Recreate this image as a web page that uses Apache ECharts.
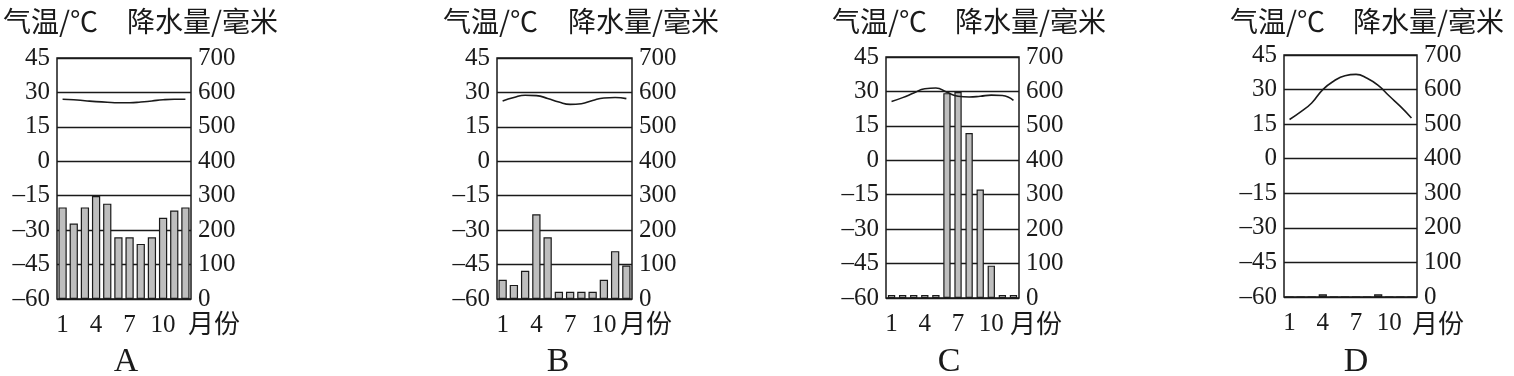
<!DOCTYPE html>
<html>
<head>
<meta charset="utf-8">
<script src="https://cdn.jsdelivr.net/npm/echarts@6/dist/echarts.min.js"></script>
<style>
html,body{margin:0;padding:0;background:#fff;}
#chart{width:1514px;height:376px;}
</style>
</head>
<body>
<div id="chart"></div>
<script>
// ---- data ----
const months = ['1','2','3','4','5','6','7','8','9','10','11','12'];
const panelNames = ['A','B','C','D'];
const tempTicks = [-60,-45,-30,-15,0,15,30,45];
const precipTicks = [0,100,200,300,400,500,600,700];

const precipA = [266,219,266,299,277,179,179,160,179,236,257,266];
const tempA   = [27,26.8,26.4,26,25.7,25.5,25.5,25.8,26.3,26.8,27,27];

const precipB = [56,41,82,246,179,21,21,21,21,56,139,97];
const tempB   = [26.3,27.8,28.8,28.6,27.4,25.8,24.8,25.1,26.5,27.6,27.8,27.3];

const precipC = [9,9,9,9,9,595,598,479,315,94,9,9];
const tempC   = [25.6,27.3,29.3,31.2,31.5,29.6,27.9,27.6,27.9,28.4,28.2,26.1];

const precipD = [0,0,0,8,0,0,0,0,8,0,0,0];
const tempD   = [17,20.3,24.2,30,33.7,36,36.6,34.9,31.8,27.2,22.7,17.7];

const precipAll = [precipA, precipB, precipC, precipD];
const tempAll = [tempA, tempB, tempC, tempD];

// ---- layout ----
const grids = [
  {left: 57,   top: 58, width: 134, height: 241},
  {left: 497,  top: 58, width: 135, height: 241},
  {left: 886,  top: 57, width: 133, height: 241},
  {left: 1284, top: 55, width: 133, height: 242}
];
const unitOffsets = [-3, -12, -9, -5];   // "月份" start relative to plot right
const letterCenters = [126, 558, 949, 1356];

const ink = '#1a1a1a';
const serif = '"Liberation Serif","Times New Roman",serif';
const cjk = '"Noto Sans CJK SC","Noto Sans CJK JP",sans-serif';

const chart = echarts.init(document.getElementById('chart'));

const option = {
  backgroundColor: '#fff',
  animation: false,
  grid: [], xAxis: [], yAxis: [], series: [], graphic: []
};

grids.forEach((g, i) => {
  option.grid.push({
    left: g.left, top: g.top, width: g.width, height: g.height,
    show: true, borderColor: ink, borderWidth: 1.5, backgroundColor: 'transparent'
  });
  option.xAxis.push({
    type: 'category', gridIndex: i, data: months,
    axisLine: {show: false}, axisTick: {show: false},
    axisLabel: {
      interval: (idx) => idx % 3 === 0,
      margin: 14, color: ink, fontFamily: serif, fontSize: 25
    }
  });
  option.yAxis.push({
    type: 'value', gridIndex: i, min: tempTicks[0], max: tempTicks[tempTicks.length-1], interval: 15,
    position: 'left',
    axisLine: {show: false}, axisTick: {show: false},
    axisLabel: {
      margin: 7, color: ink, fontFamily: serif, fontSize: 25,
      formatter: (v) => (v < 0 ? '\u2013' + Math.abs(v) : String(v))
    },
    splitLine: {show: true, lineStyle: {color: ink, width: 1.4}}
  });
  option.yAxis.push({
    type: 'value', gridIndex: i, min: precipTicks[0], max: precipTicks[precipTicks.length-1], interval: 100,
    position: 'right',
    axisLine: {show: false}, axisTick: {show: false},
    axisLabel: {margin: 7, color: ink, fontFamily: serif, fontSize: 25},
    splitLine: {show: false}
  });
  option.series.push({
    type: 'bar', xAxisIndex: i, yAxisIndex: i * 2 + 1,
    data: precipAll[i],
    barCategoryGap: i === 2 ? '34%' : '26%',
    itemStyle: {color: '#bebebe', borderColor: ink, borderWidth: 1.2},
    z: 3
  });
  option.series.push({
    type: 'line', xAxisIndex: i, yAxisIndex: i * 2,
    data: tempAll[i], smooth: 0.5, showSymbol: false, symbol: 'none',
    lineStyle: {color: ink, width: 1.6},
    z: 4
  });
  // titles & labels as text
  option.graphic.push({
    type: 'text', left: g.left - 54, top: 7,
    style: {text: '气温/℃', font: '28px ' + cjk, fill: ink}
  });
  option.graphic.push({
    type: 'text', left: g.left + g.width - 64, top: 7,
    style: {text: '降水量/毫米', font: '28px ' + cjk, fill: ink}
  });
  option.graphic.push({
    type: 'text', left: g.left + g.width + unitOffsets[i], top: 310,
    style: {text: '月份', font: '26px ' + cjk, fill: ink}
  });
  option.graphic.push({
    type: 'text', x: letterCenters[i], y: 362,
    style: {text: panelNames[i], font: '34px ' + serif, fill: ink, align: 'center', verticalAlign: 'middle'}
  });
});

chart.setOption(option);
</script>
</body>
</html>
